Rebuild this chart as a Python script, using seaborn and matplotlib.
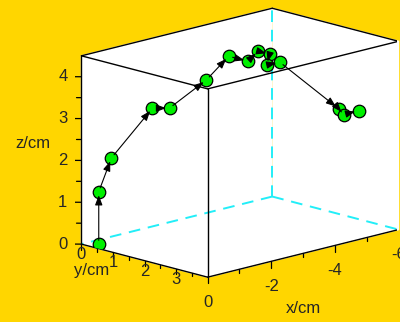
import numpy as np
import matplotlib
matplotlib.use("Agg")
import matplotlib.pyplot as plt
import seaborn as sns
from matplotlib.patches import FancyArrowPatch, Polygon

# measured positions of the tracked point, in cm
x_cm = [0.0, 0.0, -0.25, -1.24, -1.68, -2.64, -3.14, -3.64, -3.88, -4.13, -3.94, -4.25, -5.11, -5.17, -5.44]
y_cm = [0.55, 0.55, 0.70, 1.00, 1.10, 1.30, 1.50, 1.60, 1.70, 1.80, 1.90, 2.00, 3.00, 3.10, 3.30]
z_cm = [0.1, 1.36, 2.15, 3.21, 3.15, 3.68, 4.19, 4.00, 4.21, 4.11, 3.91, 3.94, 2.86, 2.73, 2.81]

x_ticks = [0, -2, -4, -6]
x_minor = [-1, -3, -5]
y_ticks = [0, 1, 2, 3]
y_minor = [0.5, 1.5, 2.5, 3.5]
z_ticks = [0, 1, 2, 3, 4]
z_minor = [0.5, 1.5, 2.5, 3.5]
x_range = (-6.0, 0.0)
y_range = (0.0, 4.0)
z_range = (0.0, 4.5)

GOLD = "#FFD600"
GREEN = "#00F000"
CYAN = "#22EEF8"
FS = 12


class Arrow3D(FancyArrowPatch):
    """Arrow between two 3D points, projected with the axes' own matrix."""

    def __init__(self, p0, p1, **kw):
        super().__init__((0, 0), (0, 0), **kw)
        self._p3d = np.array([p0, p1], dtype=float)

    def do_3d_projection(self, renderer=None):
        pts = np.column_stack([self._p3d, np.ones(2)])
        t = pts @ np.asarray(self.axes.M).T
        xs, ys, zs = t[:, 0] / t[:, 3], t[:, 1] / t[:, 3], t[:, 2] / t[:, 3]
        self.set_positions((xs[0], ys[0]), (xs[1], ys[1]))
        return float(np.min(zs))


sns.set_theme(style="white")
plt.rcParams["font.family"] = ["Liberation Sans", "DejaVu Sans"]

fig = plt.figure(figsize=(4.0, 3.22), dpi=100, facecolor=GOLD)
ax = fig.add_axes([0.1865, 0.0433, 0.805, 1.0], projection="3d")
ax.patch.set_alpha(0.0)
ax.set_proj_type("ortho")
ax.view_init(elev=14.8, azim=45.7)
ax.set_box_aspect((267, 181, 195), zoom=1.135)
ax.computed_zorder = False

ax.set_xlim(*x_range)
ax.set_ylim(*y_range)
ax.set_zlim(*z_range)
ax.set_xticks([])
ax.set_yticks([])
ax.set_zticks([])
ax.grid(False)

for axis in (ax.xaxis, ax.yaxis, ax.zaxis):
    axis.set_pane_color((1, 1, 1, 1))
    axis.pane.set_edgecolor((1, 1, 1, 0))
    axis.line.set_linewidth(0)

fig.canvas.draw()
M = np.asarray(ax.get_proj())


def to2d(x, y, z):
    v = M @ np.array([x, y, z, 1.0])
    return v[0] / v[3], v[1] / v[3]


def label(x, y, z, s, **kw):
    px, py = to2d(x, y, z)
    ax.text2D(px, py, s, transform=ax.transData, fontsize=FS, **kw)


X0, X1 = x_range
Y0, Y1 = y_range
Z0, Z1 = z_range

# box edges: the three meeting at the far corner are hidden (dashed)
far = (X0, Y0, Z0)
corners = [(a, b, c) for a in (X0, X1) for b in (Y0, Y1) for c in (Z0, Z1)]
for i, p in enumerate(corners):
    for q in corners[i + 1:]:
        if sum(u != v for u, v in zip(p, q)) != 1:
            continue
        seg = list(zip(p, q))
        if far in (p, q):
            ax.plot(*seg, color=CYAN, lw=1.4, ls=(0, (6.0, 4.0)), zorder=1)
        else:
            ax.plot(*seg, color="black", lw=1.0, zorder=2)

# tick marks and tick labels
tk = 0.11
for v in z_ticks + z_minor:
    d = tk if v in z_ticks else tk * 0.7
    ax.plot([X1, X1 + d], [Y0, Y0 - d], [v, v], color="black", lw=0.9, zorder=2)
for v in z_ticks:
    label(X1 + 0.22, Y0 - 0.22, v, f"{v:g}", ha="right", va="center")
for v in y_ticks + y_minor:
    d = 0.13 if v in y_ticks else 0.08
    ax.plot([X1, X1], [v, v], [Z0, Z0 - d], color="black", lw=0.9, zorder=2)
for v in y_ticks:
    label(X1, v, Z0 - 0.25, f"{v:g}", ha="center", va="center")
for v in x_ticks + x_minor:
    d = 0.15 if v in x_ticks else 0.08
    ax.plot([v, v], [Y1, Y1], [Z0, Z0 - d], color="black", lw=0.9, zorder=2)
for v in x_ticks:
    label(v, Y1, Z0 - 0.6, f"{v:g}", ha="center", va="center")

label(X1 + 0.77, Y0 - 0.77, 2.39, "z/cm", ha="center", va="center")
label(X1, 0.32, Z0 - 0.56, "y/cm", ha="center", va="center")
label(-3.0, Y1, Z0 - 1.32, "x/cm", ha="center", va="center")

# markers are clipped to the outline of the box
outline = [to2d(*c) for c in [(X1, Y0, Z1), (X0, Y0, Z1), (X0, Y1, Z1),
                              (X0, Y1, Z0), (X1, Y1, Z0), (X1, Y0, Z0)]]
clip = Polygon(outline, closed=True, transform=ax.transData)

pts, = ax.plot(x_cm, y_cm, z_cm, linestyle="none", marker="o", ms=9,
               mfc=GREEN, mec="black", mew=0.9, zorder=3)
pts.set_clip_path(clip)

for i in range(len(x_cm) - 1):
    p0 = (x_cm[i], y_cm[i], z_cm[i])
    p1 = (x_cm[i + 1], y_cm[i + 1], z_cm[i + 1])
    arr = Arrow3D(p0, p1, arrowstyle="-|>,head_length=0.45,head_width=0.17",
                  mutation_scale=13, lw=0.8, color="black",
                  shrinkA=3, shrinkB=2.5, zorder=4)
    ax.add_artist(arr)

fig.savefig("out.png", dpi=100, facecolor=GOLD)
